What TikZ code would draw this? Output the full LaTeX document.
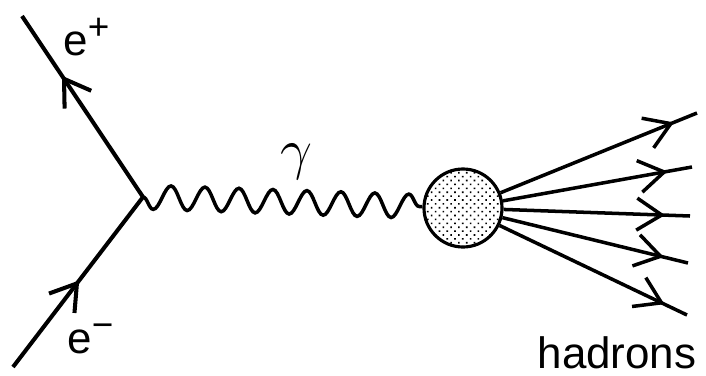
\documentclass[tikz,border=0pt]{standalone}
\usepackage{graphicx}
\usepackage{fontspec}
\setmainfont{Liberation Sans}
\usetikzlibrary{arrows.meta,decorations.pathmorphing,decorations.markings,patterns.meta}
\tikzset{
  barb/.tip={Straight Barb[length=5mm,width=6.4mm]},
  fermion/.style={line width=2.3pt,postaction={decorate},
    decoration={markings,mark=at position #1 with {\arrow{barb}}}},
  fermion/.default=0.5,
  hadron/.style={fermion=-5mm,line width=2pt},
  photon/.style={line width=2pt,decorate,
    decoration={snake,mirror,segment length=6.8mm,amplitude=2.4mm}},
  blob/.style={circle,draw,line width=1.8pt,minimum size=15.6mm,inner sep=0pt,
    pattern={Dots[distance=1.1mm,radius=0.65pt,angle=45]}},
  lbl/.style={font=\fontsize{25}{30}\selectfont,inner sep=0pt},
}
\newcommand\chg[1]{\raisebox{9pt}{\fontsize{21}{21}\selectfont#1}}

\begin{document}
\begin{tikzpicture}[x=0.2mm,y=0.2mm]
  \useasboundingbox (0,0) rectangle (706,375);
  % vertex and the two leptons
  \coordinate (v) at (143,178);
  \coordinate (pp) at (22,359);
  \coordinate (em) at (13,8);
  \draw[fermion=0.67] (v) -- (pp);
  \draw[fermion=0.51] (em) -- (v);
  \node[lbl,anchor=base west] (eplus) at (63,320) {e\chg{+}};
  \node[lbl,anchor=base west] (eminus) at (67,22) {e\chg{−}};
  % photon into the blob
  \node[blob] (blob) at (463,167) {};
  \draw[photon] (v) -- (blob);
  \node[lbl] (gam) at (296,213) {\scalebox{1.3}{$\gamma$}};
  % hadrons
  \coordinate (h1) at (697,262);
  \coordinate (h2) at (692,208);
  \coordinate (h3) at (690,159);
  \coordinate (h4) at (688,112);
  \coordinate (h5) at (687,60);
  \foreach \h in {h1,h2,h3,h4,h5}
    \draw[hadron] (blob) -- (\h);
  \node[lbl,anchor=base] (had) at (617,7) {hadrons};
\end{tikzpicture}
\end{document}
